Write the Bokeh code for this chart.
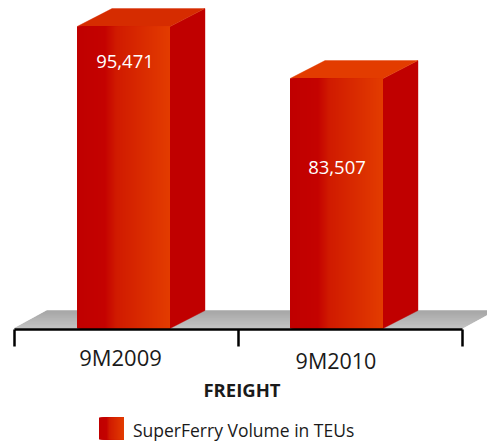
from bokeh.plotting import figure
from bokeh.models import LinearAxis, FixedTicker, Range1d
from bokeh.core.properties import value
from bokeh.embed import file_html
from bokeh.resources import INLINE

categories = ["9M2009", "9M2010"]
volumes = [95471, 83507]
value_labels = ["95,471", "83,507"]
series_name = "SuperFerry Volume in TEUs"
axis_title = "FREIGHT"

W, H = 487, 446
PX_X = 224.0                 # pixels per category
PX_Y = 0.004346              # pixels per TEU
BASE = 26000.0               # value at the floor line


def dx(px):
    return px / PX_X


def dy(px):
    return px / PX_Y


def xpx(px):                 # page pixel to x value
    return (px - 14) / PX_X


def ypx(px):                 # page pixel to y value
    return BASE + (328 - px) / PX_Y


p = figure(width=W, height=H, output_backend="svg", toolbar_location=None,
           x_range=Range1d(xpx(0.5), xpx(487.5)), y_range=Range1d(ypx(446), ypx(0)),
           x_axis_type=None, y_axis_type=None, min_border=0,
           outline_line_color=None, background_fill_color="white")
p.grid.visible = False

LEFT = [xpx(77), xpx(290)]
BAR_W = dx(93)
DEPTH_X, DEPTH_Y = dx(35), dy(18)
FONT = "Open Sans"


def mix(t):
    stops = [(0.0, (192, 0, 0)), (0.30, (196, 2, 0)), (0.42, (208, 26, 0)),
             (1.0, (227, 60, 0))]
    for (a, ca), (b, cb) in zip(stops, stops[1:]):
        if t <= b:
            f = (t - a) / (b - a)
            c = [round(u + (v - u) * f) for u, v in zip(ca, cb)]
            return "#%02x%02x%02x" % tuple(c)
    return "#e33c00"


def gradient_rect(x, w, bottom, top, n):
    # each strip runs to the right edge and is painted over by the next, so no seams show
    step = w / n
    xs = [x + i * step for i in range(n)]
    colors = [mix((i + 0.5) / n) for i in range(n)]
    p.quad(left=xs, right=[x + w] * n, bottom=bottom, top=top,
           fill_color=colors, line_color=None)


# floor
fd_x, fd_y = dx(33), dy(18)
bands = 18
for i in range(bands):
    a, b = i / bands, (i + 1) / bands
    g = round(190 - (190 - 158) * (i + 0.5) / bands)
    col = "#%02x%02x%02x" % (g, g, g)
    p.patch([0 + fd_x * a, 2 + fd_x * a, 2 + fd_x * b, 0 + fd_x * b],
            [BASE + fd_y * a, BASE + fd_y * a, BASE + fd_y * b, BASE + fd_y * b],
            fill_color=col, line_color=col, line_width=0.4)

# bars
top_colors = ["#d62c00", "#e33c00"]
for left, v, tc in zip(LEFT, volumes, top_colors):
    right = left + BAR_W
    p.patch([right, right + DEPTH_X, right + DEPTH_X, right],
            [BASE, BASE + DEPTH_Y, v + DEPTH_Y, v],
            fill_color="#c00000", line_color="#c00000", line_width=0.4)
    p.patch([left, right, right + DEPTH_X, left + DEPTH_X],
            [v, v, v + DEPTH_Y, v + DEPTH_Y],
            fill_color=tc, line_color=tc, line_width=0.4)
    gradient_rect(left, BAR_W, BASE, v, 93)

# axis at the floor front edge
ax = LinearAxis(fixed_location=BASE - dy(1.3), ticker=FixedTicker(ticks=[0, 1, 2]), bounds=(0, 2),
                axis_line_color="#000000", axis_line_width=2.5,
                major_tick_line_color="#000000", major_tick_line_width=2.5,
                major_tick_in=0, major_tick_out=17, minor_tick_line_color=None,
                major_label_text_color=None, major_label_text_font_size="1px")
p.add_layout(ax, "below")


def label(x, y, txt, size, color="#1a1a1a", style="normal", align="center"):
    p.text(x=[xpx(x)], y=[ypx(y)], text=[txt], text_font=value(FONT),
           text_font_size=size, text_color=color, text_font_style=style,
           text_align=align, text_baseline="middle")


for x, y, s, t in zip([120.5, 336], [356.5, 360], ["22px", "21.5px"], categories):
    label(x, y, t, s)
for x, y, t in zip([125, 337], [61, 167], value_labels):
    label(x, y, t, "18.5px", color="#ffffff")
label(242, 389, axis_title, "18.5px", style="bold")

# legend
gradient_rect(xpx(99), dx(25), ypx(439), ypx(417), 25)
label(133, 429.5, series_name, "17.5px", align="left")

open("out.html", "w").write(file_html(p, INLINE))
